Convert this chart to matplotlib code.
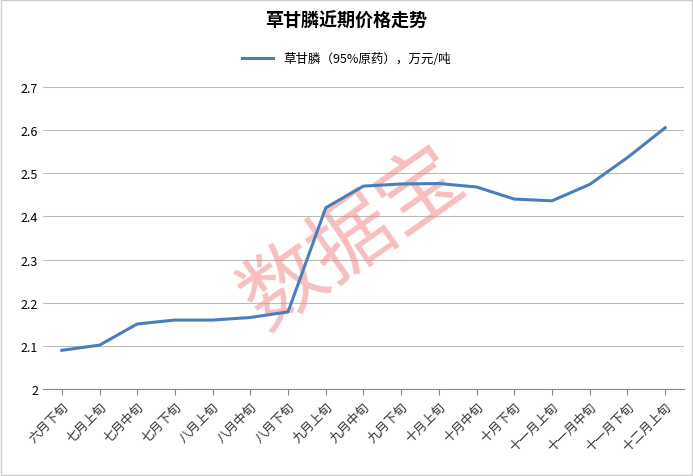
import matplotlib
matplotlib.use("Agg")
import matplotlib.pyplot as plt

plt.rcParams['font.family'] = ['Noto Sans CJK SC', 'DejaVu Sans']

categories = ["六月下旬","七月上旬","七月中旬","七月下旬","八月上旬","八月中旬","八月下旬",
              "九月上旬","九月中旬","九月下旬","十月上旬","十月中旬","十月下旬",
              "十一月上旬","十一月中旬","十一月下旬","十二月上旬"]
values = [2.09, 2.102, 2.151, 2.16, 2.16, 2.166, 2.179, 2.42, 2.47, 2.475, 2.476, 2.468,
          2.44, 2.436, 2.474, 2.536, 2.605]
yticks = [2, 2.1, 2.2, 2.3, 2.4, 2.5, 2.6, 2.7]
ylabels = ["2", "2.1", "2.2", "2.3", "2.4", "2.5", "2.6", "2.7"]

fig = plt.figure(figsize=(6.93, 4.77), dpi=100)
ax = fig.add_axes([0.062, 0.182, 0.925, 0.634])
x = list(range(len(categories)))
ax.plot(x, values, color="#4A7EBB", lw=2.2, label="草甘膦（95%原药），万元/吨", zorder=3)
ax.set_xlim(-0.5, len(categories) - 0.5)
ax.set_ylim(2, 2.7)
ax.set_yticks(yticks)
ax.set_yticklabels(ylabels, fontsize=9)
ax.set_xticks(x)
ax.set_xticklabels(categories, rotation=45, ha="right", rotation_mode="anchor", fontsize=9, color="#333333")
ax.grid(axis="y", color="#bbbbbb", lw=0.8)
ax.set_axisbelow(True)
for s in ["top", "right", "left"]:
    ax.spines[s].set_visible(False)
ax.spines["bottom"].set_color("#888888")
ax.tick_params(axis="y", length=0)
ax.tick_params(axis="x", length=4, color="#888888")

fig.text(0.5, 0.955, "草甘膦近期价格走势", ha="center", va="center", fontsize=13, fontweight="bold")
leg = fig.legend(loc="center", bbox_to_anchor=(0.5, 0.875), frameon=False, fontsize=9, handlelength=2.5)
ax.text(0.51, 0.50, "数据宝", ha="center", va="center", fontsize=60, rotation=35,
        color="#f08080", alpha=0.5, transform=fig.transFigure, zorder=1)
fig.patches.append(plt.Rectangle((0.002, 0.002), 0.996, 0.996, transform=fig.transFigure,
                                 fill=False, edgecolor="#cccccc", lw=1))
fig.savefig("out.png", dpi=100)
